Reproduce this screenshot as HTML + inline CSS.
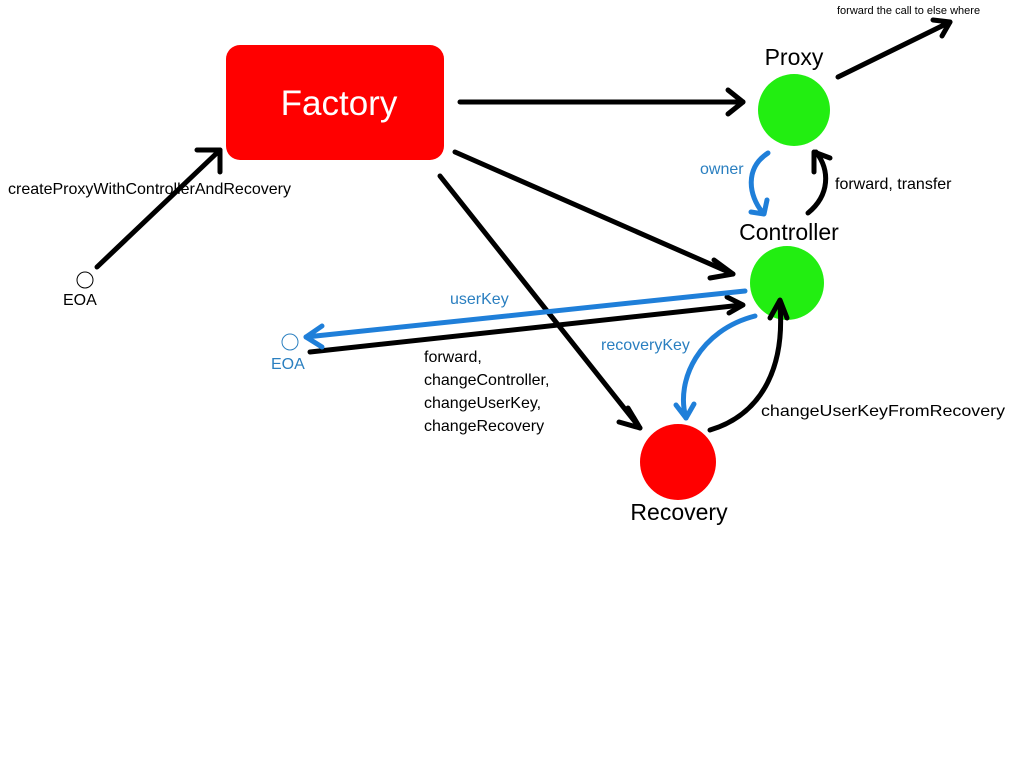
<!DOCTYPE html>
<html><head><style>
html,body{margin:0;padding:0;background:#fff;}
svg{display:block;}
text{font-family:"Liberation Sans",sans-serif;}
</style></head><body>
<svg width="1024" height="768" viewBox="0 0 1024 768">
<rect width="1024" height="768" fill="#fff"/>
<rect x="226" y="45" width="218" height="115" rx="14" fill="#ff0000"/>
<text x="339" y="115" font-size="35" fill="#fff" text-anchor="middle">Factory</text>
<circle cx="794" cy="110" r="36" fill="#22ee11"/>
<circle cx="787" cy="283" r="37" fill="#22ee11"/>
<circle cx="678" cy="462" r="38" fill="#ff0000"/>
<circle cx="85" cy="280" r="8" fill="none" stroke="#000" stroke-width="1"/>
<circle cx="290" cy="342" r="8" fill="none" stroke="#2a7fc0" stroke-width="1"/>
<g font-size="23" fill="#000" text-anchor="middle">
<text x="794" y="65">Proxy</text>
<text x="789" y="240">Controller</text>
<text x="679" y="520">Recovery</text>
</g>
<g font-size="16" fill="#000">
<text x="8" y="194" textLength="283" lengthAdjust="spacingAndGlyphs">createProxyWithControllerAndRecovery</text>
<text x="63" y="305">EOA</text>
<text x="835" y="189">forward, transfer</text>
<text x="761" y="416" textLength="244" lengthAdjust="spacingAndGlyphs">changeUserKeyFromRecovery</text>
<text x="424" y="362">forward,</text>
<text x="424" y="385">changeController,</text>
<text x="424" y="408">changeUserKey,</text>
<text x="424" y="431">changeRecovery</text>
<text x="837" y="14" font-size="11">forward the call to else where</text>
</g>
<g font-size="16" fill="#2a7fc0">
<text x="271" y="369">EOA</text>
<text x="450" y="304">userKey</text>
<text x="700" y="174">owner</text>
<text x="601" y="350">recoveryKey</text>
</g>
<g stroke="#000" stroke-width="5" fill="none" stroke-linecap="round" stroke-linejoin="round">
<path d="M97 267 L220 150"/><path d="M197 150 L220 150 L220 172"/>
<path d="M460 102 L743 102"/><path d="M728 90 L743 102 L728 114"/>
<path d="M455 152 L733 274"/><path d="M714 260 L733 274 L710 278"/>
<path d="M440 176 L640 428"/><path d="M628 408 L640 428 L619 422"/>
<path d="M838 77 L950 22"/><path d="M933 20 L950 22 L942 36"/>
<path d="M808 213 C830 195 830 170 816 152"/><path d="M814 172 L814 152 L830 158"/>
<path d="M710 430 C760 415 785 370 780 305"/><path d="M770 318 L780 300 L787 318"/>
<path d="M310 352 L742 305"/><path d="M727 297 L743 305 L729 313"/>
</g>
<g stroke="#1f7fd9" stroke-width="5" fill="none" stroke-linecap="round" stroke-linejoin="round">
<path d="M745 291 L306 337"/><path d="M322 326 L306 337 L322 347"/>
<path d="M768 153 C745 168 748 195 763 213"/><path d="M751 212 L764 214 L767 200"/>
<path d="M755 316 C700 330 675 380 686 418"/><path d="M676 405 L686 418 L694 404"/>
</g>
</svg>
</body></html>
